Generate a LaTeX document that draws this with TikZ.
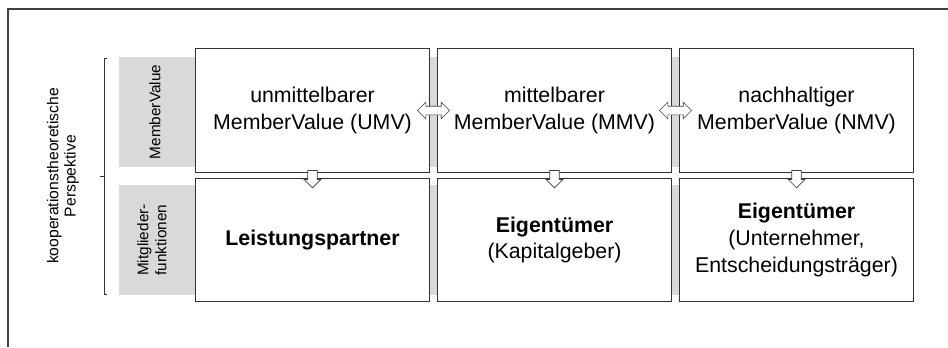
\documentclass[tikz,border=0pt]{standalone}
\usepackage{fontspec}
\setmainfont{Liberation Sans}
\usetikzlibrary{shapes.arrows,calc}

\begin{document}
\begin{tikzpicture}[x=0.75pt,y=-0.75pt,
        box/.style={draw=black!80,line width=0.6pt,fill=white,minimum width=176pt,minimum height=92.5pt,align=center,font=\fontsize{16}{20}\selectfont},
        side/.style={rotate=90,align=center,font=\fontsize{11.5}{13.5}\selectfont},
        both/.style={double arrow,draw=black!75,fill=white,line width=0.5pt,minimum height=24pt,inner sep=3pt,double arrow head extend=3pt},
        down/.style={single arrow,draw=black!75,fill=white,line width=0.5pt,shape border rotate=270,minimum height=13pt,inner sep=3.3pt,single arrow head extend=2.7pt}]
    \useasboundingbox (0,0) rectangle (948,347);
    \draw[line width=1pt,black!75] (8,347) -- (8,9) -- (948,9);
    % grey bands
    \fill[black!15] (119,57) rectangle (905,167);
    \fill[black!15] (119,185) rectangle (905,295);
    \node[side] (mv) at (155,112) {MemberValue};
    \node[side] (mf) at (152,240) {Mitglieder-\\funktionen};
    % bracket
    \draw[black!80,line width=0.6pt] (107,58) -- (104,58) -- (104,294) -- (107,294);
    \draw[black!80,line width=0.6pt] (104,176) -- (100,176);
    \node[side,font=\fontsize{11.8}{13}\selectfont] (kp) at (63,176) {kooperationstheoretische\\Perspektive};
    % boxes
    \node[box] (umv) at (312.5,110.5) {unmittelbarer\\MemberValue (UMV)};
    \node[box] (mmv) at (554.5,110.5) {mittelbarer\\MemberValue (MMV)};
    \node[box] (nmv) at (796.5,110.5) {nachhaltiger\\MemberValue (NMV)};
    \node[box] (lp) at (312.5,240) {\textbf{Leistungspartner}};
    \node[box] (kap) at (554.5,240) {\textbf{Eigentümer}\\(Kapitalgeber)};
    \node[box] (unt) at (796.5,240) {\textbf{Eigentümer}\\(Unternehmer,\\Entscheidungsträger)};
    % arrows
    \node[both] (a12) at ($(umv.east)!0.5!(mmv.west)$) {};
    \node[both] (a23) at ($(mmv.east)!0.5!(nmv.west)$) {};
    \node[down] (d1) at ($(umv.south)!0.5!(lp.north)+(0,1.5)$) {};
    \node[down] (d2) at ($(mmv.south)!0.5!(kap.north)+(0,1.5)$) {};
    \node[down] (d3) at ($(nmv.south)!0.5!(unt.north)+(0,1.5)$) {};
\end{tikzpicture}
\end{document}
